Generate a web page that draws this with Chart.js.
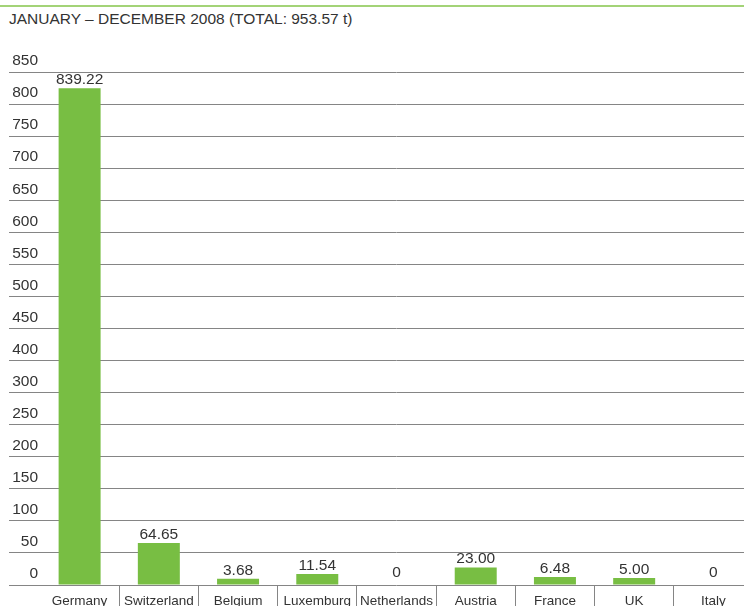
<!DOCTYPE html>
<html>
<head>
<meta charset="utf-8">
<script src="https://cdn.jsdelivr.net/npm/chart.js@4"></script>
<style>
    html, body { margin: 0; padding: 0; background: #fff; }
    body { width: 744px; height: 606px; overflow: hidden; position: relative; font-family: "Liberation Sans", Arial, sans-serif; }
    .topline { position: absolute; left: 0; top: 5px; width: 744px; height: 2px; background: #a3d377; }
    .title { position: absolute; left: 9px; top: 10px; font-size: 15.5px; line-height: 18px; color: #333; white-space: nowrap; }
    .wrap { position: absolute; left: 0; top: 0; width: 760px; height: 606px; }
</style>
</head>
<body>
<div class="topline"></div>
<div class="title">JANUARY – DECEMBER 2008 (TOTAL: 953.57 t)</div>
<div class="wrap"><canvas id="exports-chart" width="760" height="606"></canvas></div>

<script>
// ── Data ──

const COUNTRIES = ["Germany", "Switzerland", "Belgium", "Luxemburg", "Netherlands", "Austria", "France", "UK", "Italy"];
const TONNES = [839.22, 64.65, 3.68, 11.54, 0, 23.00, 6.48, 5.00, 0];
// y labels as printed, top to bottom (the original skips 350)
const Y_TICK_LABELS = ["850", "800", "750", "700", "650", "600", "550", "500", "450", "400", "300", "250", "200", "150", "100", "50", "0"];

const Y_MIN = -7;
const Y_MAX = 867;
const BAR_GREEN = "#78be43";
const GRID_GREY = "#858585";
const TEXT_COL = "#333333";
const FONT = "'Liberation Sans', Arial, sans-serif";

function fmtTonnes(v) {
    return v === 0 ? "0" : v.toFixed(2);
}

// ── Value labels above bars ──

const barValueLabels = {
    id: "barValueLabels",
    afterDraw(chart) {
        const ctx = chart.ctx;
        const meta = chart.getDatasetMeta(0);
        ctx.save();
        ctx.font = "15.5px " + FONT;
        ctx.fillStyle = TEXT_COL;
        ctx.textAlign = "center";
        ctx.textBaseline = "alphabetic";
        meta.data.forEach((bar, i) => {
            ctx.fillText(fmtTonnes(TONNES[i]), bar.x, bar.y - 4);
        });
        ctx.restore();
    }
};

// ── Chart ──

new Chart(document.getElementById("exports-chart"), {
    type: "bar",
    data: {
        labels: COUNTRIES,
        datasets: [{
            data: TONNES,
            base: Y_MIN,
            backgroundColor: ctx => (ctx.raw === 0 ? "rgba(0,0,0,0)" : BAR_GREEN),
            borderWidth: 0,
            barPercentage: 0.53,
            categoryPercentage: 1,
        }],
    },
    options: {
        responsive: false,
        animation: false,
        events: [],
        layout: { padding: { left: 9, right: 7, top: 72, bottom: 0 } },
        plugins: {
            legend: { display: false },
            tooltip: { enabled: false },
        },
        scales: {
            x: {
                offset: true,
                border: { display: false },
                grid: {
                    offset: true,
                    drawOnChartArea: false,
                    tickLength: 22,
                    lineWidth: 1,
                    color: ctx => (ctx.index === 0 ? "rgba(0,0,0,0)" : GRID_GREY),
                },
                ticks: {
                    color: TEXT_COL,
                    font: { family: FONT, size: 13.5 },
                    padding: -14,
                    maxRotation: 0,
                    autoSkip: false,
                },
                afterFit: s => { s.height = 21; },
            },
            y: {
                min: Y_MIN,
                max: Y_MAX,
                z: 1,
                border: { display: false },
                grid: {
                    color: GRID_GREY,
                    lineWidth: 1,
                    tickLength: 31,
                },
                ticks: {
                    color: TEXT_COL,
                    font: { family: FONT, size: 15.5 },
                    padding: -29,
                    labelOffset: -11,
                    callback: (v, i) => Y_TICK_LABELS[Y_TICK_LABELS.length - 1 - i],
                },
                afterBuildTicks: s => {
                    const n = Y_TICK_LABELS.length;
                    s.ticks = Y_TICK_LABELS.map((_, i) => ({ value: Y_MIN + i * (Y_MAX - Y_MIN) / (n - 1) }));
                },
                afterFit: s => { s.width = 31; },
            },
        },
    },
    plugins: [barValueLabels],
});
</script>
</body>
</html>
